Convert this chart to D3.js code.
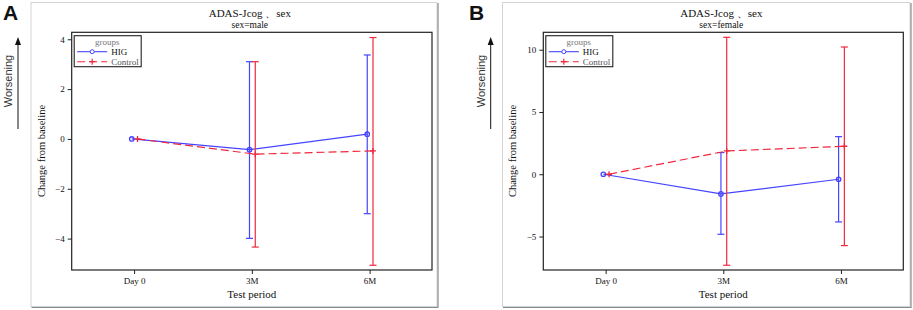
<!DOCTYPE html>
<html>
<head>
<meta charset="utf-8">
<script src="https://cdn.jsdelivr.net/npm/d3@7"></script>
<style>
  body { margin: 0; background: #fff; }
  svg text { font-family: "Liberation Serif", "DejaVu Serif", serif; fill: #111; }
</style>
</head>
<body>
<svg width="913" height="310"></svg>
<script>
// Data
const periods = ["Day 0", "3M", "6M"];
const groups = ["HIG", "Control"];

// male panel
const maleHIG = [0, -0.43, 0.19];
const maleHIGLow = [0, -3.99, -3.0];
const maleHIGHigh = [0, 3.1, 3.37];
const maleControl = [0, -0.61, -0.48];
const maleControlLow = [0, -4.34, -5.07];
const maleControlHigh = [0, 3.1, 4.07];
const maleTicks = [-4, -2, 0, 2, 4];

// female panel
const femaleHIG = [0, -1.58, -0.40];
const femaleHIGLow = [0, -4.82, -3.83];
const femaleHIGHigh = [0, 1.74, 3.02];
const femaleControl = [0, 1.87, 2.25];
const femaleControlLow = [0, -7.31, -5.73];
const femaleControlHigh = [0, 11.0, 10.22];
const femaleTicks = [-5, 0, 5, 10];

const blue = "#4545ff";
const red = "#f0283c";

const svg = d3.select("svg");

function drawPanel(p) {
    const g = svg.append("g");

    // outer frame with shadow
    g.append("rect")
        .attr("x", p.frame[0] + 0.5).attr("y", 2.5)
        .attr("width", p.frame[1] - p.frame[0]).attr("height", 304)
        .attr("fill", "none").attr("stroke", "#d4d4d4");
    g.append("path")
        .attr("d", `M${p.frame[1] + 1.5},3 V${307.5} H${p.frame[0] + 1}`)
        .attr("fill", "none").attr("stroke", "#8a8a8a").attr("stroke-width", 1.2);

    // panel letter
    g.append("text")
        .attr("x", p.letterX).attr("y", 20)
        .style("font-family", "Liberation Sans, Arial, sans-serif")
        .style("font-weight", "bold").style("font-size", "21px")
        .text(p.letter);

    // Worsening arrow
    g.append("line")
        .attr("x1", p.arrowX).attr("x2", p.arrowX)
        .attr("y1", 129).attr("y2", 43)
        .attr("stroke", "#111").attr("stroke-width", 1);
    g.append("path")
        .attr("d", `M${p.arrowX - 3},45 L${p.arrowX},37 L${p.arrowX + 3},45 Z`)
        .attr("fill", "#111");
    g.append("text")
        .attr("transform", `translate(${p.arrowX - 6},81) rotate(-90)`)
        .attr("text-anchor", "middle")
        .style("font-family", "Liberation Sans, Arial, sans-serif")
        .style("font-size", "11px").style("fill", "#333")
        .text("Worsening");

    // scales
    const x = d3.scaleLinear().domain([-0.53, 2.53]).range([p.left, p.right]);
    const y = d3.scaleLinear().domain(p.yDomain).range([270, 32.3]);

    // titles
    const cx = (p.left + p.right) / 2 - 2;
    g.append("text").attr("x", cx).attr("y", 17)
        .attr("text-anchor", "middle").style("font-size", "11px")
        .text("ADAS-Jcog 、sex");
    g.append("text").attr("x", cx).attr("y", 27.5)
        .attr("text-anchor", "middle").style("font-size", "9.5px")
        .text(p.subtitle);

    // axes
    const yAxis = d3.axisLeft(y).tickValues(p.ticks).tickSize(4).tickPadding(3);
    const ya = g.append("g").attr("transform", `translate(${p.left},0)`).call(yAxis);
    const xAxis = d3.axisBottom(x).tickValues([0, 1, 2])
        .tickFormat((d, i) => periods[i]).tickSize(4).tickPadding(4);
    const xa = g.append("g").attr("transform", "translate(0,270)").call(xAxis);
    [ya, xa].forEach(a => {
        a.select(".domain").remove();
        a.selectAll("text").style("font-size", "9px")
            .style("font-family", "Liberation Serif, serif").attr("fill", "#111");
        a.selectAll("line").attr("stroke", "#222");
    });

    g.append("rect")
        .attr("x", p.left).attr("y", 32.3)
        .attr("width", p.right - p.left).attr("height", 270 - 32.3)
        .attr("fill", "none").attr("stroke", "#222").attr("stroke-width", 1.2);

    g.append("text").attr("x", cx + 2).attr("y", 298)
        .attr("text-anchor", "middle").style("font-size", "11px")
        .text("Test period");
    g.append("text")
        .attr("transform", `translate(${p.left - 27},151) rotate(-90)`)
        .attr("text-anchor", "middle").style("font-size", "10.5px")
        .text("Change from baseline");

    // series
    const series = [
        {name: "HIG", color: blue, dx: -0.02, v: p.hig, lo: p.higLow, hi: p.higHigh, dash: null},
        {name: "Control", color: red, dx: 0.029, v: p.ctl, lo: p.ctlLow, hi: p.ctlHigh, dash: "8,4"}
    ];

    series.forEach(s => {
        const pts = s.v.map((v, i) => ({i: i, v: v, lo: s.lo[i], hi: s.hi[i]}));
        // error bars
        const eb = g.selectAll(null).data(pts.filter(d => d.lo !== d.hi)).enter();
        eb.append("line")
            .attr("x1", d => x(d.i + s.dx)).attr("x2", d => x(d.i + s.dx))
            .attr("y1", d => y(d.lo)).attr("y2", d => y(d.hi))
            .attr("stroke", s.color).attr("stroke-width", 1.2);
        [d => d.lo, d => d.hi].forEach(f => {
            eb.append("line")
                .attr("x1", d => x(d.i + s.dx) - 3.5).attr("x2", d => x(d.i + s.dx) + 3.5)
                .attr("y1", d => y(f(d))).attr("y2", d => y(f(d)))
                .attr("stroke", s.color).attr("stroke-width", 1.2);
        });
        // line
        g.append("path").datum(pts)
            .attr("d", d3.line().x(d => x(d.i + s.dx)).y(d => y(d.v)))
            .attr("fill", "none").attr("stroke", s.color).attr("stroke-width", 1.2)
            .attr("stroke-dasharray", s.dash);
        // markers
        if (s.name === "HIG") {
            g.selectAll(null).data(pts).enter().append("circle")
                .attr("cx", d => x(d.i + s.dx)).attr("cy", d => y(d.v)).attr("r", 2.2)
                .attr("fill", "none").attr("stroke", s.color).attr("stroke-width", 1.3);
        } else {
            g.selectAll(null).data(pts).enter().append("path")
                .attr("d", d => {
                    const px = x(d.i + s.dx), py = y(d.v);
                    return `M${px - 3},${py} H${px + 3} M${px},${py - 3} V${py + 3}`;
                })
                .attr("stroke", s.color).attr("stroke-width", 1.3);
        }
    });

    // legend
    const lg = g.append("g").attr("transform", `translate(${p.left + 2.5},35.7)`);
    lg.append("rect").attr("width", 67).attr("height", 31)
        .attr("fill", "#fff").attr("stroke", "#222").attr("stroke-width", 1.1);
    lg.append("text").attr("x", 33).attr("y", 9).attr("text-anchor", "middle")
        .style("font-size", "9px").style("fill", "#777").text("groups");
    series.forEach((s, i) => {
        const ly = 16 + i * 10;
        lg.append("line").attr("x1", 3).attr("x2", 33).attr("y1", ly).attr("y2", ly)
            .attr("stroke", s.color).attr("stroke-width", 1.1)
            .attr("stroke-dasharray", s.dash);
        if (i === 0) {
            lg.append("circle").attr("cx", 18).attr("cy", ly).attr("r", 2)
                .attr("fill", "#fff").attr("stroke", s.color);
        } else {
            lg.append("path").attr("d", `M15,${ly} H21 M18,${ly - 3} V${ly + 3}`)
                .attr("stroke", s.color).attr("stroke-width", 1.2);
        }
        lg.append("text").attr("x", 37).attr("y", ly + 3.2)
            .style("font-size", "9px").style("fill", i === 0 ? "#111" : "#555")
            .text(groups[i]);
    });
}

drawPanel({
    letter: "A", letterX: 3, arrowX: 18, frame: [30.5, 436.5],
    left: 71.7, right: 432, yDomain: [-5.26, 4.28], ticks: maleTicks,
    subtitle: "sex=male",
    hig: maleHIG, higLow: maleHIGLow, higHigh: maleHIGHigh,
    ctl: maleControl, ctlLow: maleControlLow, ctlHigh: maleControlHigh
});

drawPanel({
    letter: "B", letterX: 469, arrowX: 490.7, frame: [502, 909.5],
    left: 543.3, right: 903.3, yDomain: [-7.69, 11.4], ticks: femaleTicks,
    subtitle: "sex=female",
    hig: femaleHIG, higLow: femaleHIGLow, higHigh: femaleHIGHigh,
    ctl: femaleControl, ctlLow: femaleControlLow, ctlHigh: femaleControlHigh
});
</script>
</body>
</html>
